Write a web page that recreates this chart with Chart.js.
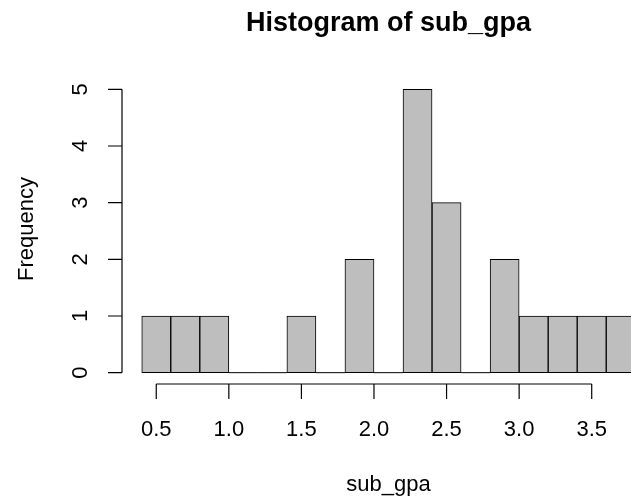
<!DOCTYPE html>
<html>
<head>
<meta charset="utf-8">
<script src="https://cdn.jsdelivr.net/npm/chart.js@4/dist/chart.umd.min.js"></script>
<style>
  html, body { margin: 0; padding: 0; background: #fff; overflow: hidden; }
  #wrap { width: 631px; height: 498px; overflow: hidden; }
  canvas { display: block; }
</style>
</head>
<body>
<div id="wrap"><canvas id="hist" width="655" height="498"></canvas></div>
<script>
// histogram bins (breaks) and counts
var breaks = [0.4, 0.6, 0.8, 1.0, 1.2, 1.4, 1.6, 1.8, 2.0, 2.2, 2.4, 2.6, 2.8, 3.0, 3.2, 3.4, 3.6, 3.8];
var counts = [1, 1, 1, 0, 0, 1, 0, 2, 0, 5, 3, 0, 2, 1, 1, 1, 1];

// axis ticks
var xTicks = [0.5, 1.0, 1.5, 2.0, 2.5, 3.0, 3.5];
var yTicks = [0, 1, 2, 3, 4, 5];

var titleText = 'Histogram of sub_gpa';
var xLabel = 'sub_gpa';
var yLabel = 'Frequency';

var FONT = '"Liberation Sans", Arial, Helvetica, sans-serif';

// bar points at bin middles, empty bins become flat segments on the baseline
var barData = [];
var zeroData = [];
for (var i = 0; i < counts.length; i++) {
    var lo = breaks[i], hi = breaks[i + 1];
    barData.push({ x: (lo + hi) / 2, y: counts[i] });
    if (counts[i] === 0) {
        zeroData.push({ x: lo, y: 0 }, { x: hi, y: 0 }, { x: hi, y: null });
    }
}

// R style range: 4% extension on each side
var xLo = breaks[0], xHi = breaks[breaks.length - 1];
var xPad = (xHi - xLo) * 0.04;
var yMax = Math.max.apply(null, counts);
var yPad = yMax * 0.04;

// draws axes, tick labels and titles the way base R does
var rAxes = {
    id: 'rAxes',
    afterDraw: function(chart) {
        var ctx = chart.ctx;
        var xs = chart.scales.x, ys = chart.scales.y;
        var area = chart.chartArea;
        ctx.save();
        ctx.strokeStyle = '#000';
        ctx.fillStyle = '#000';
        ctx.lineWidth = 1.2;

        // x axis
        var yLine = area.bottom;
        ctx.beginPath();
        ctx.moveTo(xs.getPixelForValue(xTicks[0]), yLine);
        ctx.lineTo(xs.getPixelForValue(xTicks[xTicks.length - 1]), yLine);
        xTicks.forEach(function(t) {
            var px = xs.getPixelForValue(t);
            ctx.moveTo(px, yLine);
            ctx.lineTo(px, yLine + 15);
        });
        ctx.stroke();
        ctx.font = '22px ' + FONT;
        ctx.textAlign = 'center';
        ctx.textBaseline = 'alphabetic';
        xTicks.forEach(function(t) {
            ctx.fillText(t.toFixed(1), xs.getPixelForValue(t), yLine + 52);
        });

        // y axis
        var xLine = area.left;
        ctx.beginPath();
        ctx.moveTo(xLine, ys.getPixelForValue(yTicks[0]));
        ctx.lineTo(xLine, ys.getPixelForValue(yTicks[yTicks.length - 1]));
        yTicks.forEach(function(t) {
            var py = ys.getPixelForValue(t);
            ctx.moveTo(xLine, py);
            ctx.lineTo(xLine - 14, py);
        });
        ctx.stroke();
        yTicks.forEach(function(t) {
            ctx.save();
            ctx.translate(xLine - 35, ys.getPixelForValue(t));
            ctx.rotate(-Math.PI / 2);
            ctx.fillText(String(t), 0, 0);
            ctx.restore();
        });

        var cx = (area.left + area.right) / 2;
        var cy = (area.top + area.bottom) / 2;

        // axis titles
        ctx.fillText(xLabel, cx, 490.5);
        ctx.save();
        ctx.translate(32.5, cy - 2);
        ctx.rotate(-Math.PI / 2);
        ctx.fillText(yLabel, 0, 0);
        ctx.restore();

        // main title
        ctx.font = 'bold 27px ' + FONT;
        ctx.fillText(titleText, cx, 30.5);
        ctx.restore();
    }
};

var ctx = document.getElementById('hist').getContext('2d');
var histChart = new Chart(ctx, {
    data: {
        datasets: [{
            type: 'bar',
            data: barData,
            backgroundColor: '#BEBEBE',
            borderColor: '#000000',
            borderWidth: 1,
            borderSkipped: false,
            barPercentage: 1.0,
            categoryPercentage: 1.0,
            order: 2
        }, {
            type: 'line',
            data: zeroData,
            borderColor: '#000000',
            borderWidth: 1,
            pointRadius: 0,
            spanGaps: false,
            order: 1
        }]
    },
    options: {
        responsive: false,
        animation: false,
        devicePixelRatio: 1,
        layout: { padding: { left: 122, right: 0, top: 78, bottom: 114 } },
        plugins: {
            legend: { display: false },
            tooltip: { enabled: false },
            title: { display: false }
        },
        scales: {
            x: {
                type: 'linear', offset: false, bounds: 'data',
                min: xLo - xPad, max: xHi + xPad, display: false,
                // keep only the real tick values so bar width follows the bins
                afterBuildTicks: function(scale) {
                    scale.ticks = xTicks.map(function(v) { return { value: v }; });
                }
            },
            y: {
                type: 'linear', min: -yPad, max: yMax + yPad, display: false,
                afterBuildTicks: function(scale) {
                    scale.ticks = yTicks.map(function(v) { return { value: v }; });
                }
            }
        }
    },
    plugins: [rAxes]
});
</script>
</body>
</html>
